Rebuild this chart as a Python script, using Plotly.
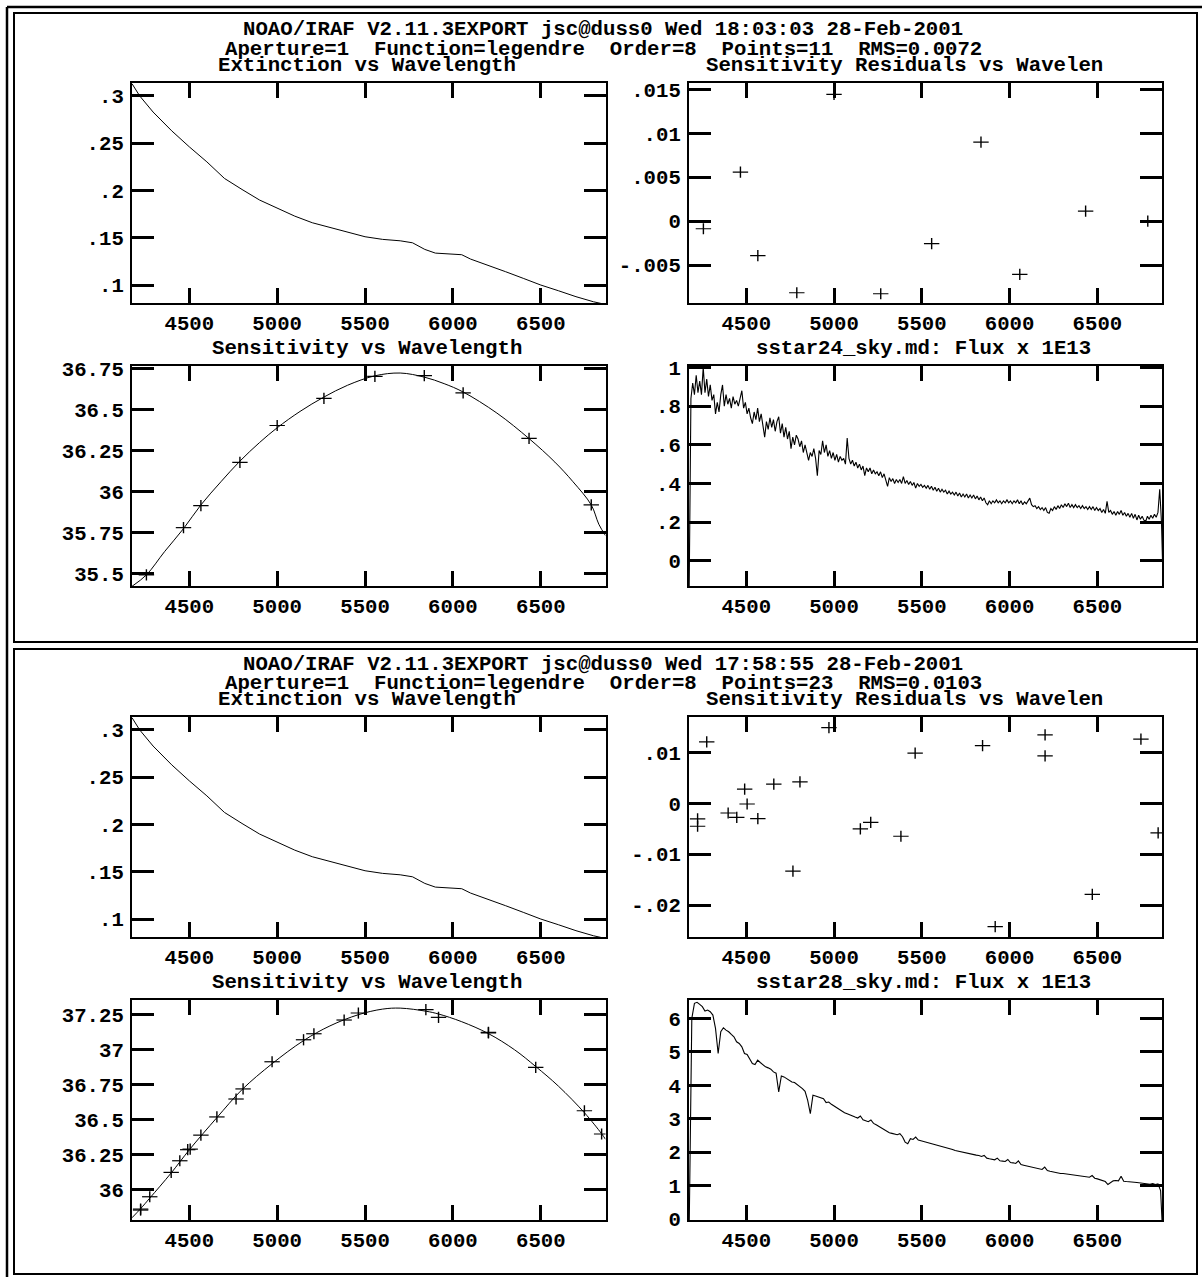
import plotly.graph_objects as go

W, H = 1202, 1277
FONT_FAMILY = "Liberation Mono"
FS = 20.7

# ---------------- data ----------------
wave_range = [4174, 6868]
x_tickvals = [4500, 5000, 5500, 6000, 6500]
x_ticktext = ["4500", "5000", "5500", "6000", "6500"]

ext_wave = [4174, 4218, 4294, 4400, 4500, 4600, 4700, 4750, 4800, 4900, 5000, 5100, 5200,
            5300, 5400, 5500, 5600, 5700, 5770, 5840, 5900, 6000, 6050, 6100, 6200, 6300,
            6400, 6500, 6600, 6700, 6800, 6868]
ext_value = [0.313, 0.300, 0.283, 0.2631, 0.2462, 0.2303, 0.2128, 0.2068, 0.2011, 0.1899,
             0.1811, 0.1729, 0.1659, 0.161, 0.1563, 0.1511, 0.1483, 0.1468, 0.1447, 0.1377,
             0.1338, 0.1328, 0.1321, 0.1275, 0.1204, 0.1141, 0.1071, 0.100, 0.094, 0.0877,
             0.0823, 0.0795]

# top panel (11 points)
top_fit_wave = [4174, 4256, 4359, 4467, 4566, 4680, 4788, 4900, 5000, 5130, 5266, 5400, 5556,
                5700, 5837, 5950, 6058, 6250, 6433, 6580, 6683, 6787, 6830, 6868]
top_fit_value = [35.42, 35.49, 35.632, 35.773, 35.918, 36.06, 36.186, 36.30, 36.39, 36.49,
                 36.578, 36.65, 36.708, 36.725, 36.70, 36.66, 36.609, 36.48, 36.324, 36.18,
                 36.06, 35.918, 35.80, 35.73]
top_pts_wave = [4256, 4467, 4566, 4788, 5000, 5266, 5556, 5837, 6058, 6433, 6787]
top_pts_sens = [35.49, 35.779, 35.914, 36.178, 36.404, 36.57, 36.705, 36.709, 36.603, 36.325, 35.918]
top_pts_resid = [-0.00087, 0.00558, -0.00394, -0.00816, 0.01443, -0.00827, -0.00257, 0.009,
                 -0.00607, 0.00114, 0.0]

# bottom panel (23 points)
bot_fit_wave = [4174, 4223, 4275, 4397, 4500, 4657, 4800, 4971, 5150, 5300, 5462, 5600, 5700,
                5846, 5918, 6050, 6202, 6350, 6471, 6600, 6748, 6846, 6868]
bot_fit_value = [35.80, 35.865, 35.94, 36.12, 36.285, 36.515, 36.715, 36.90, 37.065, 37.17,
                 37.25, 37.29, 37.297, 37.275, 37.255, 37.20, 37.115, 37.00, 36.88, 36.74,
                 36.55, 36.40, 36.36]
bot_pts_wave = [4223, 4223, 4275, 4397, 4446, 4491, 4505, 4566, 4657, 4766, 4806, 4971, 5150,
                5209, 5381, 5462, 5846, 5918, 6202, 6202, 6471, 6748, 6846]
bot_pts_sens = [35.862, 35.855, 35.95, 36.124, 36.207, 36.286, 36.29, 36.39, 36.52, 36.648,
                36.72, 36.914, 37.071, 37.114, 37.212, 37.262, 37.286, 37.231, 37.124, 37.12,
                36.874, 36.564, 36.398]
bot_pts_resid = [-0.00306, -0.0045, 0.0121, -0.00189, -0.00274, 0.00282, -0.00012, -0.003,
                 0.0038, -0.01333, 0.00425, 0.0149, -0.00502, -0.00372, -0.00647, 0.00988,
                 0.01137, -0.02424, 0.01347, 0.00935, -0.0179, 0.01263, -0.0058]

# sstar24 flux, sampled every 10 A starting at 4175 A
flux24_start, flux24_step = 4175, 10
flux24 = [
    -0.14, 0.84, 0.92, 0.86, 0.96, 0.87, 0.93, 0.86, 1.00, 0.87,
    0.94, 0.85, 0.91, 0.83, 0.86, 0.76, 0.82, 0.77, 0.86, 0.91,
    0.80, 0.86, 0.81, 0.84, 0.79, 0.85, 0.81, 0.83, 0.80, 0.85,
    0.88, 0.79, 0.82, 0.76, 0.79, 0.74, 0.71, 0.77, 0.73, 0.79,
    0.72, 0.76, 0.69, 0.64, 0.72, 0.68, 0.74, 0.69, 0.73, 0.67,
    0.72, 0.745, 0.66, 0.71, 0.64, 0.69, 0.63, 0.67, 0.58, 0.64,
    0.60, 0.65, 0.63, 0.59, 0.62, 0.56, 0.60, 0.55, 0.52, 0.56,
    0.54, 0.58, 0.53, 0.44, 0.57, 0.55, 0.62, 0.56, 0.60, 0.54,
    0.57, 0.53, 0.56, 0.52, 0.55, 0.51, 0.54, 0.52, 0.53, 0.50,
    0.635, 0.53, 0.50, 0.52, 0.49, 0.51, 0.48, 0.50, 0.47, 0.49,
    0.44, 0.48, 0.46, 0.48, 0.45, 0.47, 0.45, 0.46, 0.44, 0.46,
    0.43, 0.45, 0.42, 0.385, 0.43, 0.41, 0.425, 0.40, 0.42, 0.405,
    0.42, 0.40, 0.435, 0.40, 0.415, 0.395, 0.41, 0.39, 0.405, 0.376,
    0.40, 0.385, 0.395, 0.38, 0.39, 0.375, 0.39, 0.37, 0.385, 0.365,
    0.38, 0.36, 0.375, 0.355, 0.37, 0.355, 0.365, 0.345, 0.36, 0.345,
    0.355, 0.34, 0.355, 0.335, 0.35, 0.33, 0.345, 0.33, 0.345, 0.325,
    0.34, 0.325, 0.34, 0.32, 0.335, 0.315, 0.33, 0.31, 0.325, 0.30,
    0.29, 0.31, 0.295, 0.31, 0.30, 0.315, 0.30, 0.31, 0.295, 0.31,
    0.30, 0.315, 0.30, 0.31, 0.295, 0.31, 0.30, 0.315, 0.295, 0.31,
    0.29, 0.305, 0.295, 0.31, 0.324, 0.29, 0.28, 0.285, 0.27, 0.28,
    0.265, 0.275, 0.26, 0.275, 0.25, 0.246, 0.27, 0.26, 0.28, 0.265,
    0.285, 0.27, 0.29, 0.275, 0.295, 0.28, 0.298, 0.275, 0.29, 0.275,
    0.29, 0.275, 0.285, 0.27, 0.285, 0.27, 0.28, 0.265, 0.28, 0.265,
    0.28, 0.26, 0.275, 0.26, 0.27, 0.25, 0.265, 0.245, 0.307, 0.25,
    0.26, 0.24, 0.255, 0.235, 0.255, 0.24, 0.26, 0.235, 0.25, 0.23,
    0.245, 0.225, 0.245, 0.22, 0.24, 0.211, 0.235, 0.215, 0.23, 0.21,
    0.203, 0.23, 0.215, 0.235, 0.22, 0.24, 0.225, 0.25, 0.37, 0.20,
    -0.14]

# sstar28 flux, sampled every 15 A starting at 4175 A
flux28_start, flux28_step = 4175, 15
flux28 = [
    -0.3, 6.0, 6.45, 6.48, 6.42, 6.35, 6.22, 6.25, 6.2, 6.1,
    5.7, 4.95, 5.6, 5.72, 5.65, 5.6, 5.52, 5.45, 5.3, 5.25,
    5.15, 4.95, 4.92, 4.8, 4.65, 4.62, 4.75, 4.68, 4.62, 4.55,
    4.52, 4.48, 4.4, 4.36, 3.8, 4.28, 4.25, 4.2, 4.16, 4.1,
    4.08, 4.02, 3.97, 3.9, 3.82, 3.55, 3.15, 3.7, 3.68, 3.65,
    3.62, 3.6, 3.48, 3.5, 3.43, 3.38, 3.32, 3.27, 3.22, 3.18,
    3.15, 3.11, 3.08, 3.05, 3.02, 3.08, 2.97, 2.94, 2.91, 2.96,
    2.86, 2.82, 2.77, 2.72, 2.68, 2.62, 2.58, 2.56, 2.53, 2.52,
    2.55, 2.46, 2.3, 2.25, 2.4, 2.38, 2.45, 2.36, 2.34, 2.32,
    2.3, 2.28, 2.26, 2.24, 2.21, 2.19, 2.16, 2.14, 2.12, 2.1,
    2.08, 2.05, 2.03, 2.01, 2.0, 1.98, 1.97, 1.95, 1.93, 1.91,
    1.9, 1.87, 1.9, 1.82, 1.8, 1.78, 1.77, 1.82, 1.74, 1.73,
    1.72, 1.78, 1.69, 1.68, 1.66, 1.74, 1.63, 1.61, 1.59, 1.57,
    1.56, 1.54, 1.52, 1.5, 1.48, 1.55, 1.45, 1.43, 1.41, 1.39,
    1.37, 1.36, 1.36, 1.35, 1.34, 1.33, 1.32, 1.31, 1.3, 1.28,
    1.27, 1.26, 1.25, 1.3, 1.22, 1.2, 1.18, 1.16, 1.12, 1.03,
    1.08, 1.14, 1.15, 1.14, 1.28, 1.13, 1.12, 1.12, 1.11, 1.1,
    1.09, 1.08, 1.07, 1.08, 1.05, 1.04, 1.06, 1.03, 1.05, 0.85,
    -0.8]

panel_headers = [
    ["NOAO/IRAF V2.11.3EXPORT jsc@duss0 Wed 18:03:03 28-Feb-2001",
     "Aperture=1  Function=legendre  Order=8  Points=11  RMS=0.0072"],
    ["NOAO/IRAF V2.11.3EXPORT jsc@duss0 Wed 17:58:55 28-Feb-2001",
     "Aperture=1  Function=legendre  Order=8  Points=23  RMS=0.0103"],
]
plot_titles = [
    ["Extinction vs Wavelength", "Sensitivity Residuals vs Wavelen",
     "Sensitivity vs Wavelength", "sstar24_sky.md: Flux x 1E13"],
    ["Extinction vs Wavelength", "Sensitivity Residuals vs Wavelen",
     "Sensitivity vs Wavelength", "sstar28_sky.md: Flux x 1E13"],
]

ext_ticks = [0.1, 0.15, 0.2, 0.25, 0.3]
ext_ticktext = [".1", ".15", ".2", ".25", ".3"]
res_top_ticks = [-0.005, 0, 0.005, 0.01, 0.015]
res_top_ticktext = ["-.005", "0", ".005", ".01", ".015"]
res_bot_ticks = [-0.02, -0.01, 0, 0.01]
res_bot_ticktext = ["-.02", "-.01", "0", ".01"]
sens_top_ticks = [35.5, 35.75, 36, 36.25, 36.5, 36.75]
sens_top_ticktext = ["35.5", "35.75", "36", "36.25", "36.5", "36.75"]
sens_bot_ticks = [36, 36.25, 36.5, 36.75, 37, 37.25]
sens_bot_ticktext = ["36", "36.25", "36.5", "36.75", "37", "37.25"]
flux_top_ticks = [0, 0.2, 0.4, 0.6, 0.8, 1]
flux_top_ticktext = ["0", ".2", ".4", ".6", ".8", "1"]
flux_bot_ticks = [0, 1, 2, 3, 4, 5, 6]
flux_bot_ticktext = ["0", "1", "2", "3", "4", "5", "6"]

# ---------------- layout helpers ----------------
def px_x(p):
    return p / W

def px_y(p):
    return 1 - p / H

PANEL_DY = 634
LEFT_X = (132, 605.5)
RIGHT_X = (689, 1162)
UP_Y = (83.3, 303.3)
LOW_Y = (366, 586)

fig = go.Figure()
layout = dict(width=W, height=H, margin=dict(l=0, r=0, t=0, b=0, pad=0),
              autosize=False, template="none",
              paper_bgcolor="white", plot_bgcolor="white", showlegend=False,
              font=dict(family=FONT_FAMILY, size=FS, color="black", weight="bold"))

axis_common = dict(showline=True, linecolor="black", linewidth=2, mirror="ticks",
                   ticks="inside", tickcolor="black", showgrid=False, zeroline=False,
                   automargin=False, fixedrange=True,
                   tickfont=dict(family=FONT_FAMILY, size=FS, color="black", weight="bold"))

annotations = []
shapes = []

def add_axes(n, xdom, ydom, yrange, ytv, ytt):
    xa = dict(axis_common, domain=[px_x(xdom[0]), px_x(xdom[1])], range=wave_range,
              tickvals=x_tickvals, ticktext=x_ticktext, ticklen=15, tickwidth=2.5,
              anchor="y%d" % n, ticklabelstandoff=0)
    ya = dict(axis_common, domain=[px_y(ydom[1]), px_y(ydom[0])], range=yrange,
              tickvals=ytv, ticktext=ytt, ticklen=22, tickwidth=2.5,
              anchor="x%d" % n, ticklabelstandoff=2)
    layout["xaxis%d" % n] = xa
    layout["yaxis%d" % n] = ya

def line_trace(n, x, y, shape="linear", width=1):
    fig.add_trace(go.Scatter(x=x, y=y, mode="lines", xaxis="x%d" % n, yaxis="y%d" % n,
                             line=dict(color="black", width=width, shape=shape),
                             hoverinfo="skip"))

def plus_trace(n, x, y):
    fig.add_trace(go.Scatter(x=x, y=y, mode="markers", xaxis="x%d" % n, yaxis="y%d" % n,
                             marker=dict(symbol="line-ew", size=11, color="black",
                                         line=dict(color="black", width=1.2)),
                             hoverinfo="skip"))
    fig.add_trace(go.Scatter(x=x, y=y, mode="markers", xaxis="x%d" % n, yaxis="y%d" % n,
                             marker=dict(symbol="line-ns", size=8, color="black",
                                         line=dict(color="black", width=1.4)),
                             hoverinfo="skip"))

flux_wave24 = [flux24_start + flux24_step * i for i in range(len(flux24))]
flux_wave28 = [flux28_start + flux28_step * i for i in range(len(flux28))]

panels = [
    dict(fit_w=top_fit_wave, fit_v=top_fit_value, pw=top_pts_wave, ps=top_pts_sens,
         pr=top_pts_resid, fw=flux_wave24, fv=flux24,
         ext_range=[0.0807, 0.3134], res_range=[-0.00936, 0.0157],
         res_tv=res_top_ticks, res_tt=res_top_ticktext,
         sens_range=[35.422, 36.768], sens_tv=sens_top_ticks, sens_tt=sens_top_ticktext,
         flux_range=[-0.131, 1.008], flux_tv=flux_top_ticks, flux_tt=flux_top_ticktext),
    dict(fit_w=bot_fit_wave, fit_v=bot_fit_value, pw=bot_pts_wave, ps=bot_pts_sens,
         pr=bot_pts_resid, fw=flux_wave28, fv=flux28,
         ext_range=[0.0807, 0.3134], res_range=[-0.02635, 0.01694],
         res_tv=res_bot_ticks, res_tt=res_bot_ticktext,
         sens_range=[35.784, 37.355], sens_tv=sens_bot_ticks, sens_tt=sens_bot_ticktext,
         flux_range=[-0.03, 6.55], flux_tv=flux_bot_ticks, flux_tt=flux_bot_ticktext),
]

for k, p in enumerate(panels):
    dy = PANEL_DY * k
    base = 4 * k
    up = (UP_Y[0] + dy, UP_Y[1] + dy)
    low = (LOW_Y[0] + dy, LOW_Y[1] + dy)
    n = base + 1
    add_axes(n, LEFT_X, up, p["ext_range"], ext_ticks, ext_ticktext)
    line_trace(n, ext_wave, ext_value)
    n = base + 2
    add_axes(n, RIGHT_X, up, p["res_range"], p["res_tv"], p["res_tt"])
    plus_trace(n, p["pw"], p["pr"])
    n = base + 3
    add_axes(n, LEFT_X, low, p["sens_range"], p["sens_tv"], p["sens_tt"])
    line_trace(n, p["fit_w"], p["fit_v"], shape="spline")
    plus_trace(n, p["pw"], p["ps"])
    n = base + 4
    add_axes(n, RIGHT_X, low, p["flux_range"], p["flux_tv"], p["flux_tt"])
    line_trace(n, p["fw"], p["fv"], width=1.1)

    hdr_y = [30 + dy, 49 + dy]
    for txt, yy in zip(panel_headers[k], hdr_y):
        annotations.append(dict(text=txt.replace(" ", "\u00a0"), x=px_x(603), y=px_y(yy),
                                xref="paper", yref="paper", xanchor="center",
                                yanchor="middle", showarrow=False))
    titles = plot_titles[k]
    tpos = [(367, 65 + dy), (904, 65 + dy), (367, 348 + dy), (923, 348 + dy)]
    for txt, (xx, yy) in zip(titles, tpos):
        annotations.append(dict(text=txt.replace(" ", "\u00a0"), x=px_x(xx), y=px_y(yy),
                                xref="paper", yref="paper", xanchor="center",
                                yanchor="middle", showarrow=False))

# panel frames
for (y0, y1) in [(13, 642), (649, 1274)]:
    shapes.append(dict(type="rect", xref="paper", yref="paper",
                       x0=px_x(14), x1=px_x(1197), y0=px_y(y1), y1=px_y(y0),
                       line=dict(color="black", width=2)))
# outer frame: only its left and top edges fall inside the picture
shapes.append(dict(type="line", xref="paper", yref="paper",
                   x0=px_x(7), x1=px_x(7), y0=0, y1=px_y(7),
                   line=dict(color="black", width=2.5)))
shapes.append(dict(type="line", xref="paper", yref="paper",
                   x0=px_x(7), x1=1, y0=px_y(7), y1=px_y(7),
                   line=dict(color="black", width=2.5)))

layout["annotations"] = annotations
layout["shapes"] = shapes
fig.update_layout(**layout)
fig.write_html("out.html")
